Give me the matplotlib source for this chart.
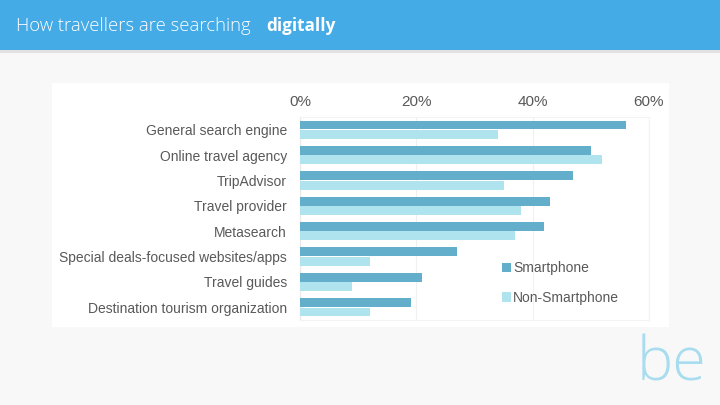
import matplotlib
matplotlib.use("Agg")
import matplotlib.pyplot as plt
from matplotlib.patches import Rectangle, Patch
from matplotlib.ticker import FuncFormatter

categories = ["General search engine", "Online travel agency", "TripAdvisor",
              "Travel provider", "Metasearch", "Special deals-focused websites/apps",
              "Travel guides", "Destination tourism organization"]
smartphone = [56, 50, 47, 43, 42, 27, 21, 19]
non_smartphone = [34, 52, 35, 38, 37, 12, 9, 12]
xticks = [0, 20, 40, 60]
series_names = ["Smartphone", "Non-Smartphone"]

plt.rcParams["font.family"] = ["Liberation Sans", "DejaVu Sans"]

C_SMART = "#63aecb"
C_NON = "#afe3ee"
TXT = "#595959"

W, H = 720, 405
fig = plt.figure(figsize=(7.2, 4.05), dpi=100)
fig.patch.set_facecolor("#f8f8f8")

# header bar with shadow
fig.patches.append(Rectangle((0, 1 - 53 / H), 1, 3 / H, transform=fig.transFigure,
                             facecolor="#e2e2e2", edgecolor="none", zorder=0))
fig.patches.append(Rectangle((0, 1 - 50 / H), 1, 50 / H, transform=fig.transFigure,
                             facecolor="#45abe6", edgecolor="none", zorder=1))
fig.text(16 / W, 1 - 26 / H, "How travellers are searching", color="white",
         fontsize=13.3, fontfamily="Open Sans", fontweight="light", va="center", ha="left")
fig.text(266 / W, 1 - 26 / H, "digitally", color="white",
         fontsize=12.3, fontfamily="Open Sans", fontweight="bold", va="center", ha="left")

# white panel
fig.patches.append(Rectangle((52 / W, 1 - 327 / H), (669 - 52) / W, (327 - 83) / H,
                             transform=fig.transFigure, facecolor="white",
                             edgecolor="none", zorder=1))

# "be" logo
fig.text(672 / W, 1 - 365 / H, "be", color="#a8dcef", fontsize=44,
         fontfamily="Open Sans", fontweight="light", ha="center", va="center")

ax = fig.add_axes([300 / W, 1 - 320 / H, (649 - 300) / W, (320 - 117) / H])
ax.set_facecolor("white")
ax.set_zorder(2)

n = len(categories)
ys = list(range(n))
h = 0.35
ax.barh([y - h / 2 - 0.01 for y in ys], smartphone, height=h, color=C_SMART, zorder=3)
ax.barh([y + h / 2 + 0.01 for y in ys], non_smartphone, height=h, color=C_NON, zorder=3)

ax.set_ylim(n - 0.5, -0.5)
ax.set_xlim(0, 60)
ax.set_xticks(xticks)
ax.xaxis.set_major_formatter(FuncFormatter(lambda v, p: f"{int(v)}%"))
ax.xaxis.tick_top()
ax.set_yticks(ys)
ax.set_yticklabels(categories)
ax.tick_params(axis="both", length=0, labelcolor=TXT)
ax.tick_params(axis="x", pad=6, labelsize=11)
ax.tick_params(axis="y", pad=9.5, labelsize=10.0)
ax.grid(axis="x", color="#f0f0f0", linewidth=0.8, zorder=0)
for s in ["top", "right", "bottom"]:
    ax.spines[s].set_color("#f3f3f3")
    ax.spines[s].set_linewidth(0.8)
ax.spines["left"].set_color("#e8e8e8")
ax.spines["left"].set_linewidth(0.8)

handles = [Patch(facecolor=C_SMART), Patch(facecolor=C_NON)]
leg = ax.legend(handles, series_names, loc="center left",
                bbox_to_anchor=((489 - 300) / (649 - 300), 1 - (283 - 117) / (320 - 117)),
                frameon=False, handlelength=0.7, handleheight=0.7, handletextpad=0.15,
                labelspacing=1.1, prop={"size": 10.0})
for t in leg.get_texts():
    t.set_color(TXT)

fig.savefig("out.png", dpi=100, facecolor=fig.get_facecolor())
